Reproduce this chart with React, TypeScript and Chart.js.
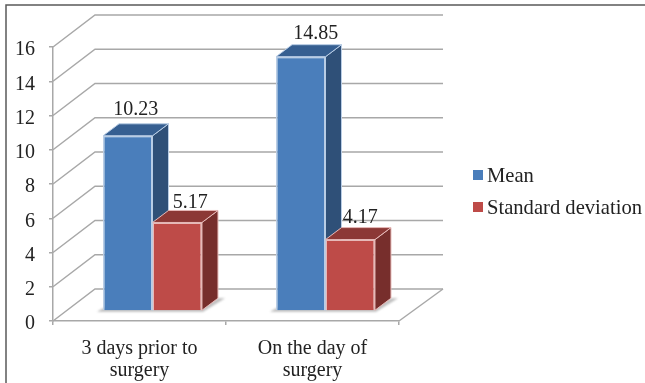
import { useEffect, useRef } from "react";
import { Chart, registerables } from "chart.js";

Chart.register(...registerables);

const categories = [["3 days prior to", "surgery"], ["On the day of", "surgery"]];
const meanValues = [10.23, 14.85];
const sdValues = [5.17, 4.17];
const meanLabel = "Mean";
const sdLabel = "Standard deviation";

const FONT = "'Liberation Serif', serif";
const INK = "#222222";
const GRID = "#a8a8a8";

// Oblique projection of the chart box: wall depth and the plane the bars stand on.
const WALL_DX = 42;
const WALL_DY = -32;
const WALL_END_DX = 44;
const BAR_PLANE_DX = 13;
const BAR_PLANE_DY = -10;
const BAR_DX = 16;
const BAR_DY = -12;

const faceColors = [
  { top: "#365f91", side: "#2f5078", edge: "#b9cde5" },
  { top: "#8c3836", side: "#772e2c", edge: "#e6b9b8" },
];
const legendColors = ["#4a7ebb", "#be4b48"];
// Hand placement of each value label relative to its bar: [dataset][category] -> [dx, dy]
const labelNudge = [
  [[0, -26], [7, -23]],
  [[5, -20], [2, -22]],
];

function face(ctx: CanvasRenderingContext2D, pts: number[][], fill: string, edge: string) {
  ctx.beginPath();
  pts.forEach(([x, y], i) => (i ? ctx.lineTo(x, y) : ctx.moveTo(x, y)));
  ctx.closePath();
  ctx.fillStyle = fill;
  ctx.fill();
  ctx.strokeStyle = edge;
  ctx.lineWidth = 1;
  ctx.stroke();
}

const box3d = {
  id: "box3d",
  // Page frame, grid lines along the floor and back wall, floor shadow, then the
  // tops and sides of the bars; the library paints their front faces afterwards.
  beforeDatasetsDraw(chart: any) {
    const { ctx, scales } = chart;
    const { x: xs, y: ys } = scales;
    ctx.save();
    ctx.strokeStyle = "#5a5a5a";
    ctx.lineWidth = 1.5;
    ctx.beginPath();
    ctx.moveTo(645, 5);
    ctx.lineTo(6, 5);
    ctx.lineTo(6, 383);
    ctx.stroke();

    ctx.strokeStyle = GRID;
    ctx.lineWidth = 1.5;
    ys.ticks.forEach((t: any) => {
      const y = ys.getPixelForValue(t.value);
      ctx.beginPath();
      ctx.moveTo(xs.left, y);
      ctx.lineTo(xs.left + WALL_DX, y + WALL_DY);
      ctx.lineTo(xs.right + WALL_END_DX, y + WALL_DY);
      ctx.stroke();
    });
    const y0 = ys.getPixelForValue(0);
    ctx.beginPath();
    ctx.moveTo(xs.right, y0);
    ctx.lineTo(xs.right + WALL_END_DX, y0 + WALL_DY);
    ctx.stroke();

    ctx.save();
    ctx.filter = "blur(1px)";
    ctx.fillStyle = "#bdbdbd";
    chart.getDatasetMeta(0).data.forEach((bar: any, i: number) => {
      const red = chart.getDatasetMeta(1).data[i];
      const left = bar.x - bar.width / 2 + BAR_PLANE_DX;
      const right = red.x + red.width / 2 + BAR_PLANE_DX;
      const base = bar.base + BAR_PLANE_DY;
      ctx.beginPath();
      ctx.moveTo(left - 6, base + 1.5);
      ctx.lineTo(right + 1, base + 1.5);
      ctx.lineTo(right + BAR_DX + 7, base + BAR_DY);
      ctx.lineTo(right + BAR_DX, base + BAR_DY);
      ctx.lineTo(right, base - 2);
      ctx.lineTo(left, base - 2);
      ctx.closePath();
      ctx.fill();
    });
    ctx.restore();

    ctx.translate(BAR_PLANE_DX, BAR_PLANE_DY);
    [0, 1].forEach((d) => {
      const colors = faceColors[d];
      chart.getDatasetMeta(d).data.forEach((bar: any) => {
        const l = bar.x - bar.width / 2;
        const r = bar.x + bar.width / 2;
        const t = bar.y;
        const b = bar.base;
        face(ctx, [[r, t], [r + BAR_DX, t + BAR_DY], [r + BAR_DX, b + BAR_DY], [r, b]], colors.side, colors.edge);
        face(ctx, [[l, t], [l + BAR_DX, t + BAR_DY], [r + BAR_DX, t + BAR_DY], [r, t]], colors.top, colors.edge);
      });
    });
    ctx.restore();
  },
  beforeDatasetDraw(chart: any) {
    chart.ctx.save();
    chart.ctx.translate(BAR_PLANE_DX, BAR_PLANE_DY);
  },
  afterDatasetDraw(chart: any) {
    chart.ctx.restore();
  },
  afterDatasetsDraw(chart: any) {
    const { ctx, data } = chart;
    ctx.save();
    ctx.fillStyle = INK;
    ctx.font = `20px ${FONT}`;
    ctx.textAlign = "center";
    ctx.textBaseline = "middle";
    data.datasets.forEach((ds: any, d: number) => {
      chart.getDatasetMeta(d).data.forEach((bar: any, i: number) => {
        const [dx, dy] = labelNudge[d][i];
        ctx.fillText(
          ds.data[i].toFixed(2),
          bar.x + BAR_PLANE_DX + BAR_DX / 2 + dx,
          bar.y + BAR_PLANE_DY + dy,
        );
      });
    });

    // Legend column to the right of the plot.
    ctx.textAlign = "left";
    ctx.font = `20.6px ${FONT}`;
    data.datasets.forEach((ds: any, d: number) => {
      const y = 175 + d * 32;
      ctx.fillStyle = legendColors[d];
      ctx.fillRect(473, y - 5, 10, 10);
      ctx.fillStyle = INK;
      ctx.fillText(ds.label, 487, y + 1.5);
    });
    ctx.restore();
  },
};

export default function App() {
  const ref = useRef<HTMLCanvasElement>(null);
  useEffect(() => {
    const chart = new Chart(ref.current!, {
      type: "bar",
      data: {
        labels: categories,
        datasets: [
          {
            label: meanLabel,
            data: meanValues,
            backgroundColor: legendColors[0],
            borderColor: faceColors[0].edge,
            borderWidth: 1.5,
            clip: false,
          },
          {
            label: sdLabel,
            data: sdValues,
            backgroundColor: legendColors[1],
            borderColor: faceColors[1].edge,
            borderWidth: 1.5,
            clip: false,
          },
        ],
      },
      options: {
        animation: false,
        responsive: false,
        devicePixelRatio: 1,
        layout: { padding: { left: 0, top: 47, right: 246, bottom: 0 } },
        datasets: { bar: { categoryPercentage: 0.572, barPercentage: 1 } },
        plugins: { legend: { display: false }, tooltip: { enabled: false } },
        scales: {
          x: {
            afterFit: (s: any) => { s.height = 62; },
            grid: { drawOnChartArea: false, color: GRID, lineWidth: 1.5, tickLength: 4 },
            border: { color: GRID, width: 1.5 },
            ticks: {
              color: INK,
              font: { family: FONT, size: 20, lineHeight: 1.1 },
              padding: 13,
              maxRotation: 0,
              autoSkip: false,
            },
          },
          y: {
            min: 0,
            max: 16,
            afterFit: (s: any) => { s.width = 53; },
            grid: { drawOnChartArea: false, color: GRID, lineWidth: 1.5, tickLength: 4 },
            border: { color: GRID, width: 1.5 },
            ticks: {
              stepSize: 2,
              color: INK,
              font: { family: FONT, size: 20 },
              padding: 14,
              labelOffset: 3,
            },
          },
        },
      },
      plugins: [box3d],
    });
    return () => chart.destroy();
  }, []);

  return (
    <div style={{ position: "absolute", left: 0, top: 0, background: "#fff" }}>
      <canvas ref={ref} width={645} height={383} style={{ display: "block" }} />
    </div>
  );
}
